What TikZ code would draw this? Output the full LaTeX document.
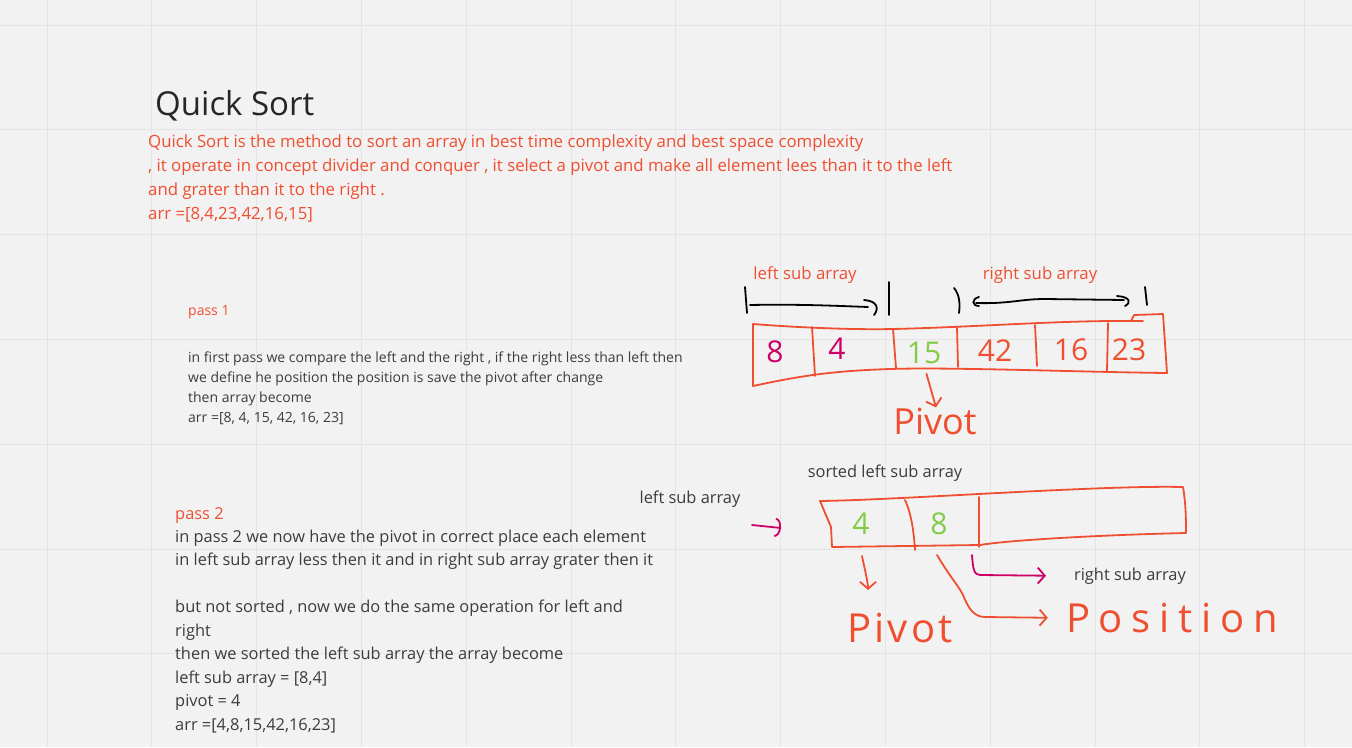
\documentclass[tikz,border=0pt]{standalone}
\usepackage{fontspec}
\setmainfont{Open Sans}
\usetikzlibrary{arrows.meta}
\definecolor{qsbg}{RGB}{242,242,242}
\definecolor{qsgrid}{RGB}{228,228,228}
\definecolor{qsred}{RGB}{240,78,48}
\definecolor{qsgray}{RGB}{60,60,60}
\definecolor{qsdark}{RGB}{38,38,38}
\definecolor{qsmag}{RGB}{204,0,102}
\definecolor{qsgreen}{RGB}{132,204,72}
\begin{document}
\begin{tikzpicture}[x=1pt,y=-1pt,
    pen/.style={qsred, line width=1.8pt, line cap=round, line join=round},
    ink/.style={black, line width=1.8pt, line cap=round},
    magpen/.style={qsmag, line width=1.8pt, line cap=round, line join=round},
    txt/.style={inner sep=0pt, text=qsgray, align=left},
    hand/.style={inner sep=1pt, font=\fontsize{30}{30}\selectfont},
    barb/.style={-{Straight Barb[length=7pt,width=16pt]}},
    hook/.style={-{Arc Barb[length=6pt,width=19pt]}}]
    % fondo e griglia
    \useasboundingbox (0,0) rectangle (1352,747);
    \fill[qsbg] (0,0) rectangle (1352,747);
    \foreach \i in {0,1,...,12} {
      \pgfmathsetmacro{\x}{47+104.8*\i}
      \draw[qsgrid, line width=1pt] (\x,0) -- (\x,747);
    }
    \foreach \j in {0,1,...,6} {
      \pgfmathsetmacro{\y}{25+104.8*\j}
      \draw[qsgrid, line width=1pt] (0,\y) -- (1352,\y);
    }
    % titolo e introduzione (base = ultima riga)
    \node[anchor=base west, inner sep=0pt, text=qsdark, font=\fontsize{33}{38}\selectfont] (title) at (155,115) {Quick Sort};
    \node[txt, anchor=base west, text=qsred, font=\fontsize{16.8}{24}\selectfont] (intro) at (148,219)
      {Quick Sort is the method to sort an array in best time complexity and best space complexity\\
       , it operate in concept divider and conquer , it select a pivot and make all element lees than it to the left\\
       and grater than it to the right .\\
       arr =[8,4,23,42,16,15]};
    % pass 1
    \node[txt, anchor=base west, text=qsred, font=\fontsize{14}{20}\selectfont] (pass1) at (188,315) {pass 1};
    \node[txt, anchor=base west, font=\fontsize{14}{20}\selectfont] (pass1txt) at (188,422)
      {in first pass we compare the left and the right , if the right less than left then\\
       we define he position the position is save the pivot after change\\
       then array become\\
       arr =[8, 4, 15, 42, 16, 23]};
    % pass 2
    \node[txt, anchor=base west, text=qsred, font=\fontsize{16.4}{23.5}\selectfont] (pass2) at (175,519) {pass 2};
    \node[txt, anchor=base west, font=\fontsize{16.4}{23.5}\selectfont] (pass2txt) at (175,730)
      {in pass 2 we now have the pivot in correct place each element\\
       in left sub array less then it and in right sub array grater then it\\[23.5pt]
       but not sorted , now we do the same operation for left and\\
       right\\
       then we sorted the left sub array the array become\\
       left sub array = [8,4]\\
       pivot = 4\\
       arr =[4,8,15,42,16,23]};
    % primo array
    \node[txt, text=qsred, font=\fontsize{16.8}{20}\selectfont] (lsubA) at (805,275) {left sub array};
    \node[txt, text=qsred, font=\fontsize{16.8}{20}\selectfont] (rsubA) at (1040,275) {right sub array};
    \draw[ink] (745,287) -- (747,313);
    \draw[ink] (750,305) .. controls (800,304) and (840,306) .. (868,307);
    \draw[ink] (864,300) .. controls (878,301) and (879,309) .. (874,315);
    \draw[ink] (889,282) -- (889,315);
    \draw[ink] (954,288) .. controls (960,295) and (960,305) .. (959,313);
    \draw[ink] (979,297) .. controls (971,299) and (972,306) .. (979,306);
    \draw[ink] (976,303) .. controls (1010,304) and (1020,299) .. (1045,299) -- (1124,300);
    \draw[ink] (1117,296) .. controls (1131,297) and (1131,303) .. (1125,306);
    \draw[ink] (1145,287) -- (1147,305);
    \draw[pen] (753,324) .. controls (790,327) and (850,330) .. (893,329)
      .. controls (980,327) and (1060,320) .. (1143,321);
    \draw[pen] (1131,321) -- (1134,315) -- (1163,314) -- (1167,373)
      .. controls (1080,372) and (950,367) .. (890,369)
      .. controls (830,371) and (800,376) .. (753,386) -- (753,324);
    \draw[pen] (812,327) -- (815,376);
    \draw[pen] (893,329) -- (896,368);
    \draw[pen] (957,327) -- (958,367);
    \draw[pen] (1035,325) -- (1037,366);
    \draw[pen] (1108,323) -- (1107,371);
    \node[hand, text=qsmag] (c8) at (775,352) {8};
    \node[hand, text=qsmag] (c4) at (837,349) {4};
    \node[hand, text=qsgreen] (c15) at (924,353) {15};
    \node[hand, text=qsred] (c42) at (995,351) {42};
    \node[hand, text=qsred] (c16) at (1071,350) {16};
    \node[hand, text=qsred] (c23) at (1129,350) {23};
    \node[inner sep=0pt, text=qsred, font=\fontsize{36}{36}\selectfont] (pivA) at (935,421) {Pivot};
    \draw[pen, barb, shorten <=9pt] (c15.south) -- ([xshift=1pt]pivA.north);
    % secondo array
    \node[txt, font=\fontsize{16.4}{20}\selectfont] (sorted) at (885,473) {sorted left sub array};
    \node[txt, font=\fontsize{16.4}{20}\selectfont] (lsubB) at (690,499) {left sub array};
    \node[txt, font=\fontsize{16.4}{20}\selectfont] (rsubB) at (1130,576) {right sub array};
    \draw[pen] (820,501) .. controls (900,500) and (1100,485) .. (1183,487)
      .. controls (1186,505) and (1186,520) .. (1186,533)
      .. controls (1100,535) and (1010,540) .. (980,545) -- (832,547)
      -- (831,527) -- cycle;
    \draw[pen] (905,500) .. controls (912,515) and (914,535) .. (915,550);
    \draw[pen] (979,497) -- (979,547);
    \node[hand, text=qsgreen] (d4) at (861,524) {4};
    \node[hand, text=qsgreen] (d8) at (939,524) {8};
    \coordinate (la) at (752,525);
    \coordinate (lb) at (781,528);
    \draw[magpen, hook] (la) -- (lb);
    \node[inner sep=0pt, text=qsred, font=\fontsize{40}{40}\selectfont\addfontfeatures{LetterSpace=8}] (pivB) at (900,628) {Pivot};
    \coordinate (pivtip) at (868,590);
    \draw[pen, barb] ([shift={(1,32)}]d4.center) .. controls +(2,10) and +(0,-8) .. (pivtip);
    \node[inner sep=0pt, text=qsred, font=\fontsize{40}{40}\selectfont\addfontfeatures{LetterSpace=22}] (posB) at (1172,618) {Position};
    \draw[pen, barb, shorten >=18pt] ([shift={(-2,31)}]d8.center) .. controls +(15,25) and +(-5,-10) .. ++(26,40)
      .. controls +(5,12) and +(-12,0) .. ++(22,22) -- (posB.west);
    \coordinate (rs) at (972,555);
    \draw[magpen, barb, shorten >=28pt] (rs) .. controls +(1,14) and +(-6,0) .. ++(8,20) -- (rsubB.west);
  \end{tikzpicture}
\end{document}
